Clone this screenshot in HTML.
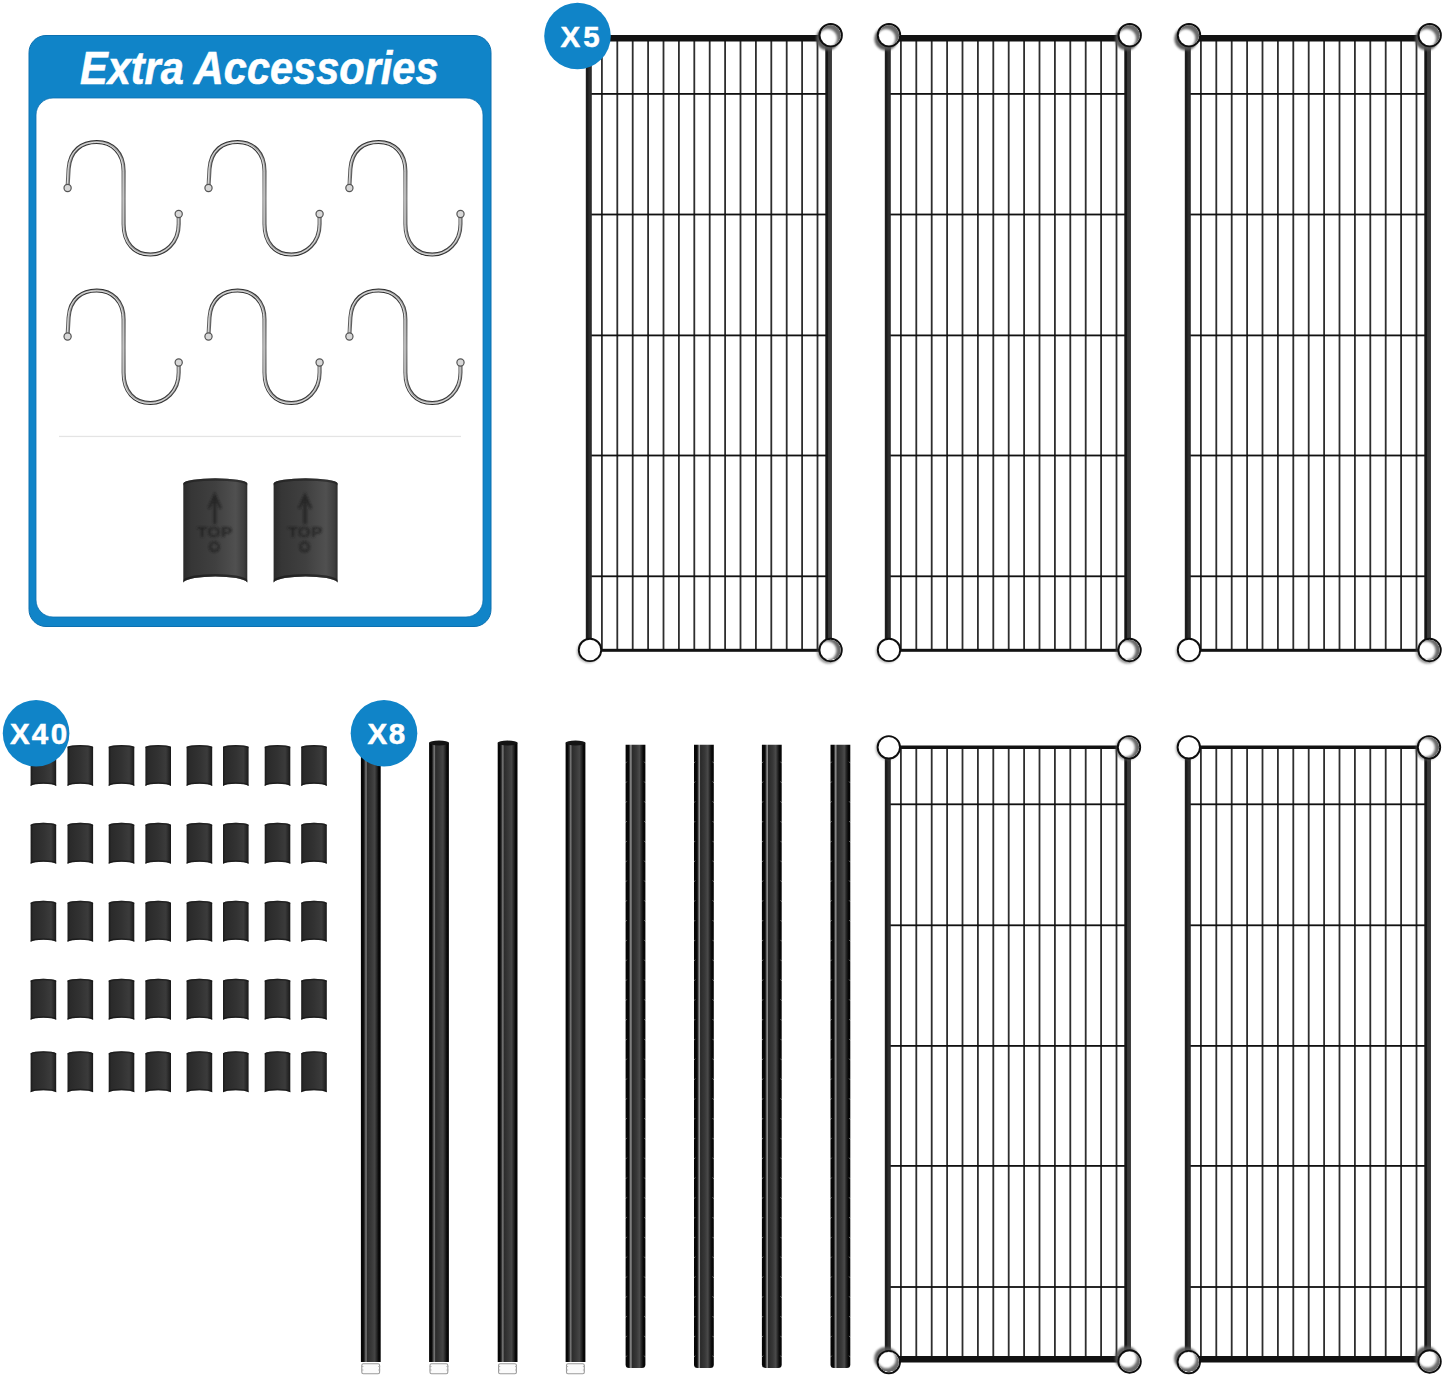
<!DOCTYPE html><html><head><meta charset="utf-8"><style>html,body{margin:0;padding:0;background:#fff;}svg{display:block;}text{font-family:"Liberation Sans",sans-serif;}</style></head><body><svg width="1445" height="1378" viewBox="0 0 1445 1378"><defs><filter id="b05" x="-50%" y="-50%" width="200%" height="200%"><feGaussianBlur stdDeviation="0.5"/></filter><filter id="b08" x="-50%" y="-50%" width="200%" height="200%"><feGaussianBlur stdDeviation="1.1"/></filter><filter id="b1" x="-50%" y="-50%" width="200%" height="200%"><feGaussianBlur stdDeviation="1"/></filter><filter id="b15" x="-50%" y="-50%" width="200%" height="200%"><feGaussianBlur stdDeviation="1.5"/></filter><linearGradient id="clipg" x1="0" x2="1" y1="0" y2="0"><stop offset="0" stop-color="#2a2a2a"/><stop offset="0.12" stop-color="#363636"/><stop offset="0.5" stop-color="#404040"/><stop offset="0.82" stop-color="#505050"/><stop offset="0.95" stop-color="#3e3e3e"/><stop offset="1" stop-color="#2c2c2c"/></linearGradient><linearGradient id="sclipg" x1="0" x2="1" y1="0" y2="0"><stop offset="0" stop-color="#1a1a1a"/><stop offset="0.1" stop-color="#2a2a2a"/><stop offset="0.5" stop-color="#323232"/><stop offset="0.8" stop-color="#3b3b3b"/><stop offset="0.93" stop-color="#252525"/><stop offset="1" stop-color="#181818"/></linearGradient><linearGradient id="poleg" x1="0" x2="1" y1="0" y2="0"><stop offset="0" stop-color="#050505"/><stop offset="0.12" stop-color="#080808"/><stop offset="0.2" stop-color="#3a3a3a"/><stop offset="0.26" stop-color="#808080"/><stop offset="0.33" stop-color="#2c2c2c"/><stop offset="0.55" stop-color="#3a3a3a"/><stop offset="0.7" stop-color="#454545"/><stop offset="0.82" stop-color="#222"/><stop offset="0.9" stop-color="#080808"/><stop offset="1" stop-color="#050505"/></linearGradient><linearGradient id="poleg2" x1="0" x2="1" y1="0" y2="0"><stop offset="0" stop-color="#050505"/><stop offset="0.16" stop-color="#080808"/><stop offset="0.22" stop-color="#555"/><stop offset="0.27" stop-color="#a0a0a0"/><stop offset="0.33" stop-color="#2a2a2a"/><stop offset="0.55" stop-color="#383838"/><stop offset="0.7" stop-color="#4a4a4a"/><stop offset="0.82" stop-color="#1e1e1e"/><stop offset="0.9" stop-color="#080808"/><stop offset="1" stop-color="#050505"/></linearGradient><linearGradient id="studg" x1="0" x2="1" y1="0" y2="0"><stop offset="0" stop-color="#999"/><stop offset="0.3" stop-color="#f4f4f4"/><stop offset="0.7" stop-color="#e6e6e6"/><stop offset="1" stop-color="#888"/></linearGradient><linearGradient id="hookg" gradientUnits="userSpaceOnUse" x1="0" y1="140" x2="0" y2="257"><stop offset="0" stop-color="#2a2a2a"/><stop offset="0.2" stop-color="#505050"/><stop offset="0.5" stop-color="#7a7a7a"/><stop offset="0.8" stop-color="#505050"/><stop offset="1" stop-color="#2e2e2e"/></linearGradient><linearGradient id="postL" x1="0" x2="1" y1="0" y2="0"><stop offset="0" stop-color="#1e1e1e"/><stop offset="0.3" stop-color="#1c1c1c"/><stop offset="0.6" stop-color="#2e2e2e"/><stop offset="1" stop-color="#2a2a2a"/></linearGradient><linearGradient id="postR" x1="0" x2="1" y1="0" y2="0"><stop offset="0" stop-color="#141414"/><stop offset="0.35" stop-color="#161616"/><stop offset="0.5" stop-color="#3a3a3a"/><stop offset="0.8" stop-color="#3a3a3a"/><stop offset="1" stop-color="#262626"/></linearGradient><clipPath id="rc"><circle r="10.2"/></clipPath><g id="hook"><path d="M67.6,187 L68.6,169 C70,150 82,142 96.8,142 C112.5,142 123.6,153 123.6,171 L123.6,224 C123.6,243 134,254.5 150.5,254.5 C165,254.5 178.7,243 178.7,224 L178.7,215" fill="none" stroke="url(#hookg)" stroke-width="4.1" stroke-linecap="round"/><path d="M67.6,187 L68.6,169 C70,150 82,142 96.8,142 C112.5,142 123.6,153 123.6,171 L123.6,224 C123.6,243 134,254.5 150.5,254.5 C165,254.5 178.7,243 178.7,224 L178.7,215" fill="none" stroke="#a0a0a0" stroke-width="1.9" stroke-linecap="round"/><path d="M67.6,187 L68.6,169 C70,150 82,142 96.8,142 C112.5,142 123.6,153 123.6,171 L123.6,224 C123.6,243 134,254.5 150.5,254.5 C165,254.5 178.7,243 178.7,224 L178.7,215" fill="none" stroke="#ededed" stroke-width="0.8" stroke-linecap="round" transform="translate(-0.5,0.3)"/><circle cx="67.6" cy="188" r="3.6" fill="#d8d8d8" stroke="#555" stroke-width="1.2"/><circle cx="178.7" cy="214" r="3.6" fill="#d8d8d8" stroke="#555" stroke-width="1.2"/></g><g id="sclip"><path d="M0,2.2 A14,3.2 0 0 1 25.6,2.2 L25.6,41.3 A13.5,3 0 0 0 0,41.3 Z" fill="url(#sclipg)"/><path d="M0,2.2 A14,3.2 0 0 1 25.6,2.2 L25.6,3.6 A14,3 0 0 0 0,3.6 Z" fill="#151515" opacity="0.6"/><path d="M0,39.8 A13.5,3 0 0 1 25.6,39.8 L25.6,41.3 A13.5,3 0 0 0 0,41.3 Z" fill="#111" opacity="0.6"/></g><g id="rT"><circle cx="-3" cy="3.6" r="11.6" fill="#555" opacity="0.95" filter="url(#b1)"/><circle r="11.2" fill="#fff"/><g clip-path="url(#rc)"><circle r="10.2" fill="#6a6a6a"/><circle cx="-3.0" cy="3.2" r="9.3" fill="#fff" filter="url(#b1)"/></g><circle r="11.2" fill="none" stroke="#0e0e0e" stroke-width="1.9"/></g><g id="rBL"><circle cx="-1.5" cy="1.5" r="11.6" fill="#555" opacity="0.45" filter="url(#b1)"/><circle r="11.2" fill="#fff"/><circle r="11.2" fill="none" stroke="#0e0e0e" stroke-width="1.9"/></g><g id="rBR"><circle cx="-2" cy="2" r="11.6" fill="#555" opacity="0.6" filter="url(#b1)"/><circle r="11.2" fill="#fff"/><g clip-path="url(#rc)"><circle r="10.2" fill="#6a6a6a"/><circle cx="-3.4" cy="0.6" r="9.3" fill="#fff" filter="url(#b1)"/></g><circle r="11.2" fill="none" stroke="#0e0e0e" stroke-width="1.9"/></g><g id="r2L"><circle cx="-1.5" cy="1.0" r="11.6" fill="#555" opacity="0.45" filter="url(#b1)"/><circle r="11.2" fill="#fff"/><circle r="11.2" fill="none" stroke="#0e0e0e" stroke-width="1.9"/></g><g id="r2R"><circle cx="-2" cy="1.5" r="11.6" fill="#555" opacity="0.6" filter="url(#b1)"/><circle r="11.2" fill="#fff"/><g clip-path="url(#rc)"><circle r="10.2" fill="#6a6a6a"/><circle cx="-3.4" cy="0.4" r="9.3" fill="#fff" filter="url(#b1)"/></g><circle r="11.2" fill="none" stroke="#0e0e0e" stroke-width="1.9"/></g><g id="r2B"><circle cx="-3" cy="-3.6" r="11.6" fill="#555" opacity="0.9" filter="url(#b1)"/><circle r="11.2" fill="#fff"/><g clip-path="url(#rc)"><circle r="10.2" fill="#6a6a6a"/><circle cx="-2.2" cy="-3.2" r="9.3" fill="#fff" filter="url(#b1)"/></g><circle r="11.2" fill="none" stroke="#0e0e0e" stroke-width="1.9"/></g></defs><rect width="1445" height="1378" fill="#fff"/><rect x="29" y="35.5" width="462" height="591" rx="17" fill="#1084c8" stroke="#0c70b0" stroke-width="1"/><rect x="36" y="98" width="447" height="519" rx="17" fill="#fff" stroke="#0c70b0" stroke-width="0.8"/><text x="80" y="83.6" font-size="45.8" font-weight="bold" font-style="italic" fill="#fff" stroke="#fff" stroke-width="0.6" textLength="358.5" lengthAdjust="spacingAndGlyphs">Extra Accessories</text><use href="#hook" transform="translate(0.0,0.0)"/><use href="#hook" transform="translate(140.9,0.0)"/><use href="#hook" transform="translate(281.8,0.0)"/><use href="#hook" transform="translate(0.0,148.5)"/><use href="#hook" transform="translate(140.9,148.5)"/><use href="#hook" transform="translate(281.8,148.5)"/><rect x="59" y="435.8" width="402" height="1.3" fill="#e4e4e4"/><g transform="translate(183.3,478)"><path d="M0,5.2 A32.05,5.2 0 0 1 64,5.2 L64,104.5 A32.5,7.4 0 0 0 0,104.5 Z" fill="url(#clipg)"/><path d="M0,5.2 A32.05,5.2 0 0 1 64,5.2 L64,7.4 A32.05,5 0 0 0 0,7.4 Z" fill="#1c1c1c" opacity="0.55"/><path d="M0,102 A32.5,7.4 0 0 1 64,102 L64,104.5 A32.5,7.4 0 0 0 0,104.5 Z" fill="#151515" opacity="0.6"/><g filter="url(#b08)" opacity="0.75" stroke="#1e1e1e" fill="none" stroke-width="2"><path d="M31.4,46 L31.4,19" stroke-width="2.8"/><path d="M25.5,30.5 L31.4,17 L37.3,30.5" stroke-width="2.4"/><circle cx="31" cy="68.8" r="4.4" stroke-width="2.2"/><text x="13.8" y="59.3" font-size="14" font-weight="bold" fill="#1e1e1e" stroke="none" textLength="35" lengthAdjust="spacingAndGlyphs">TOP</text></g></g><g transform="translate(273.6,478)"><path d="M0,5.2 A32.05,5.2 0 0 1 64,5.2 L64,104.5 A32.5,7.4 0 0 0 0,104.5 Z" fill="url(#clipg)"/><path d="M0,5.2 A32.05,5.2 0 0 1 64,5.2 L64,7.4 A32.05,5 0 0 0 0,7.4 Z" fill="#1c1c1c" opacity="0.55"/><path d="M0,102 A32.5,7.4 0 0 1 64,102 L64,104.5 A32.5,7.4 0 0 0 0,104.5 Z" fill="#151515" opacity="0.6"/><g filter="url(#b08)" opacity="0.75" stroke="#1e1e1e" fill="none" stroke-width="2"><path d="M31.4,46 L31.4,19" stroke-width="2.8"/><path d="M25.5,30.5 L31.4,17 L37.3,30.5" stroke-width="2.4"/><circle cx="31" cy="68.8" r="4.4" stroke-width="2.2"/><text x="13.8" y="59.3" font-size="14" font-weight="bold" fill="#1e1e1e" stroke="none" textLength="35" lengthAdjust="spacingAndGlyphs">TOP</text></g></g><rect x="601.00" y="38.2" width="1.8" height="612.1" fill="#2e2e2e"/><rect x="616.40" y="38.2" width="1.8" height="612.1" fill="#2e2e2e"/><rect x="631.80" y="38.2" width="1.8" height="612.1" fill="#2e2e2e"/><rect x="647.20" y="38.2" width="1.8" height="612.1" fill="#2e2e2e"/><rect x="662.60" y="38.2" width="1.8" height="612.1" fill="#2e2e2e"/><rect x="678.00" y="38.2" width="1.8" height="612.1" fill="#2e2e2e"/><rect x="693.40" y="38.2" width="1.8" height="612.1" fill="#2e2e2e"/><rect x="708.80" y="38.2" width="1.8" height="612.1" fill="#2e2e2e"/><rect x="724.20" y="38.2" width="1.8" height="612.1" fill="#2e2e2e"/><rect x="739.60" y="38.2" width="1.8" height="612.1" fill="#2e2e2e"/><rect x="755.00" y="38.2" width="1.8" height="612.1" fill="#2e2e2e"/><rect x="770.40" y="38.2" width="1.8" height="612.1" fill="#2e2e2e"/><rect x="785.80" y="38.2" width="1.8" height="612.1" fill="#2e2e2e"/><rect x="801.20" y="38.2" width="1.8" height="612.1" fill="#2e2e2e"/><rect x="816.60" y="38.2" width="1.8" height="612.1" fill="#2e2e2e"/><rect x="588.8" y="93.0" width="239.8" height="1.8" fill="#111"/><rect x="588.8" y="213.6" width="239.8" height="1.8" fill="#111"/><rect x="588.8" y="334.5" width="239.8" height="1.8" fill="#111"/><rect x="588.8" y="454.6" width="239.8" height="1.8" fill="#111"/><rect x="588.8" y="575.4" width="239.8" height="1.8" fill="#111"/><rect x="588.8" y="35.0" width="239.8" height="6.5" fill="#121212"/><rect x="588.8" y="648.8" width="239.8" height="3" fill="#121212"/><rect x="585.8" y="38.2" width="6" height="612.1" fill="url(#postL)"/><rect x="825.3" y="38.2" width="6.6" height="612.1" fill="url(#postR)"/><use href="#rT" transform="translate(590.0,35.2)"/><use href="#rT" transform="translate(830.7,35.2)"/><use href="#rBL" transform="translate(590.0,649.9)"/><use href="#rBR" transform="translate(830.6,650.0)"/><rect x="900.00" y="38.2" width="1.8" height="612.1" fill="#2e2e2e"/><rect x="915.40" y="38.2" width="1.8" height="612.1" fill="#2e2e2e"/><rect x="930.80" y="38.2" width="1.8" height="612.1" fill="#2e2e2e"/><rect x="946.20" y="38.2" width="1.8" height="612.1" fill="#2e2e2e"/><rect x="961.60" y="38.2" width="1.8" height="612.1" fill="#2e2e2e"/><rect x="977.00" y="38.2" width="1.8" height="612.1" fill="#2e2e2e"/><rect x="992.40" y="38.2" width="1.8" height="612.1" fill="#2e2e2e"/><rect x="1007.80" y="38.2" width="1.8" height="612.1" fill="#2e2e2e"/><rect x="1023.20" y="38.2" width="1.8" height="612.1" fill="#2e2e2e"/><rect x="1038.60" y="38.2" width="1.8" height="612.1" fill="#2e2e2e"/><rect x="1054.00" y="38.2" width="1.8" height="612.1" fill="#2e2e2e"/><rect x="1069.40" y="38.2" width="1.8" height="612.1" fill="#2e2e2e"/><rect x="1084.80" y="38.2" width="1.8" height="612.1" fill="#2e2e2e"/><rect x="1100.20" y="38.2" width="1.8" height="612.1" fill="#2e2e2e"/><rect x="1115.60" y="38.2" width="1.8" height="612.1" fill="#2e2e2e"/><rect x="887.8" y="93.0" width="239.8" height="1.8" fill="#111"/><rect x="887.8" y="213.6" width="239.8" height="1.8" fill="#111"/><rect x="887.8" y="334.5" width="239.8" height="1.8" fill="#111"/><rect x="887.8" y="454.6" width="239.8" height="1.8" fill="#111"/><rect x="887.8" y="575.4" width="239.8" height="1.8" fill="#111"/><rect x="887.8" y="35.0" width="239.8" height="6.5" fill="#121212"/><rect x="887.8" y="648.8" width="239.8" height="3" fill="#121212"/><rect x="884.8" y="38.2" width="6" height="612.1" fill="url(#postL)"/><rect x="1124.3" y="38.2" width="6.6" height="612.1" fill="url(#postR)"/><use href="#rT" transform="translate(889.0,35.2)"/><use href="#rT" transform="translate(1129.7,35.2)"/><use href="#rBL" transform="translate(889.0,649.9)"/><use href="#rBR" transform="translate(1129.6,650.0)"/><rect x="1200.00" y="38.2" width="1.8" height="612.1" fill="#2e2e2e"/><rect x="1215.40" y="38.2" width="1.8" height="612.1" fill="#2e2e2e"/><rect x="1230.80" y="38.2" width="1.8" height="612.1" fill="#2e2e2e"/><rect x="1246.20" y="38.2" width="1.8" height="612.1" fill="#2e2e2e"/><rect x="1261.60" y="38.2" width="1.8" height="612.1" fill="#2e2e2e"/><rect x="1277.00" y="38.2" width="1.8" height="612.1" fill="#2e2e2e"/><rect x="1292.40" y="38.2" width="1.8" height="612.1" fill="#2e2e2e"/><rect x="1307.80" y="38.2" width="1.8" height="612.1" fill="#2e2e2e"/><rect x="1323.20" y="38.2" width="1.8" height="612.1" fill="#2e2e2e"/><rect x="1338.60" y="38.2" width="1.8" height="612.1" fill="#2e2e2e"/><rect x="1354.00" y="38.2" width="1.8" height="612.1" fill="#2e2e2e"/><rect x="1369.40" y="38.2" width="1.8" height="612.1" fill="#2e2e2e"/><rect x="1384.80" y="38.2" width="1.8" height="612.1" fill="#2e2e2e"/><rect x="1400.20" y="38.2" width="1.8" height="612.1" fill="#2e2e2e"/><rect x="1415.60" y="38.2" width="1.8" height="612.1" fill="#2e2e2e"/><rect x="1187.8" y="93.0" width="239.8" height="1.8" fill="#111"/><rect x="1187.8" y="213.6" width="239.8" height="1.8" fill="#111"/><rect x="1187.8" y="334.5" width="239.8" height="1.8" fill="#111"/><rect x="1187.8" y="454.6" width="239.8" height="1.8" fill="#111"/><rect x="1187.8" y="575.4" width="239.8" height="1.8" fill="#111"/><rect x="1187.8" y="35.0" width="239.8" height="6.5" fill="#121212"/><rect x="1187.8" y="648.8" width="239.8" height="3" fill="#121212"/><rect x="1184.8" y="38.2" width="6" height="612.1" fill="url(#postL)"/><rect x="1424.3" y="38.2" width="6.6" height="612.1" fill="url(#postR)"/><use href="#rT" transform="translate(1189.0,35.2)"/><use href="#rT" transform="translate(1429.7,35.2)"/><use href="#rBL" transform="translate(1189.0,649.9)"/><use href="#rBR" transform="translate(1429.6,650.0)"/><rect x="900.00" y="747.3" width="1.8" height="612.0" fill="#2e2e2e"/><rect x="915.40" y="747.3" width="1.8" height="612.0" fill="#2e2e2e"/><rect x="930.80" y="747.3" width="1.8" height="612.0" fill="#2e2e2e"/><rect x="946.20" y="747.3" width="1.8" height="612.0" fill="#2e2e2e"/><rect x="961.60" y="747.3" width="1.8" height="612.0" fill="#2e2e2e"/><rect x="977.00" y="747.3" width="1.8" height="612.0" fill="#2e2e2e"/><rect x="992.40" y="747.3" width="1.8" height="612.0" fill="#2e2e2e"/><rect x="1007.80" y="747.3" width="1.8" height="612.0" fill="#2e2e2e"/><rect x="1023.20" y="747.3" width="1.8" height="612.0" fill="#2e2e2e"/><rect x="1038.60" y="747.3" width="1.8" height="612.0" fill="#2e2e2e"/><rect x="1054.00" y="747.3" width="1.8" height="612.0" fill="#2e2e2e"/><rect x="1069.40" y="747.3" width="1.8" height="612.0" fill="#2e2e2e"/><rect x="1084.80" y="747.3" width="1.8" height="612.0" fill="#2e2e2e"/><rect x="1100.20" y="747.3" width="1.8" height="612.0" fill="#2e2e2e"/><rect x="1115.60" y="747.3" width="1.8" height="612.0" fill="#2e2e2e"/><rect x="887.8" y="803.4" width="239.8" height="1.8" fill="#111"/><rect x="887.8" y="924.4" width="239.8" height="1.8" fill="#111"/><rect x="887.8" y="1045.0" width="239.8" height="1.8" fill="#111"/><rect x="887.8" y="1165.0" width="239.8" height="1.8" fill="#111"/><rect x="887.8" y="1286.1" width="239.8" height="1.8" fill="#111"/><rect x="887.8" y="745.5" width="239.8" height="3.5" fill="#121212"/><rect x="887.8" y="1356.0" width="239.8" height="6.5" fill="#121212"/><rect x="884.8" y="747.3" width="6" height="612.0" fill="url(#postL)"/><rect x="1124.3" y="747.3" width="6.6" height="612.0" fill="url(#postR)"/><use href="#r2L" transform="translate(888.8,747.3)"/><use href="#r2R" transform="translate(1129.0,747.3)"/><use href="#r2B" transform="translate(888.8,1362.1)"/><use href="#r2B" transform="translate(1129.6,1361.5)"/><rect x="1200.00" y="747.3" width="1.8" height="612.0" fill="#2e2e2e"/><rect x="1215.40" y="747.3" width="1.8" height="612.0" fill="#2e2e2e"/><rect x="1230.80" y="747.3" width="1.8" height="612.0" fill="#2e2e2e"/><rect x="1246.20" y="747.3" width="1.8" height="612.0" fill="#2e2e2e"/><rect x="1261.60" y="747.3" width="1.8" height="612.0" fill="#2e2e2e"/><rect x="1277.00" y="747.3" width="1.8" height="612.0" fill="#2e2e2e"/><rect x="1292.40" y="747.3" width="1.8" height="612.0" fill="#2e2e2e"/><rect x="1307.80" y="747.3" width="1.8" height="612.0" fill="#2e2e2e"/><rect x="1323.20" y="747.3" width="1.8" height="612.0" fill="#2e2e2e"/><rect x="1338.60" y="747.3" width="1.8" height="612.0" fill="#2e2e2e"/><rect x="1354.00" y="747.3" width="1.8" height="612.0" fill="#2e2e2e"/><rect x="1369.40" y="747.3" width="1.8" height="612.0" fill="#2e2e2e"/><rect x="1384.80" y="747.3" width="1.8" height="612.0" fill="#2e2e2e"/><rect x="1400.20" y="747.3" width="1.8" height="612.0" fill="#2e2e2e"/><rect x="1415.60" y="747.3" width="1.8" height="612.0" fill="#2e2e2e"/><rect x="1187.8" y="803.4" width="239.8" height="1.8" fill="#111"/><rect x="1187.8" y="924.4" width="239.8" height="1.8" fill="#111"/><rect x="1187.8" y="1045.0" width="239.8" height="1.8" fill="#111"/><rect x="1187.8" y="1165.0" width="239.8" height="1.8" fill="#111"/><rect x="1187.8" y="1286.1" width="239.8" height="1.8" fill="#111"/><rect x="1187.8" y="745.5" width="239.8" height="3.5" fill="#121212"/><rect x="1187.8" y="1356.0" width="239.8" height="6.5" fill="#121212"/><rect x="1184.8" y="747.3" width="6" height="612.0" fill="url(#postL)"/><rect x="1424.3" y="747.3" width="6.6" height="612.0" fill="url(#postR)"/><use href="#r2L" transform="translate(1188.8,747.3)"/><use href="#r2R" transform="translate(1429.0,747.3)"/><use href="#r2B" transform="translate(1188.8,1362.1)"/><use href="#r2B" transform="translate(1429.6,1361.5)"/><use href="#sclip" transform="translate(30.6,744.6)"/><use href="#sclip" transform="translate(67.5,744.6)"/><use href="#sclip" transform="translate(108.7,744.6)"/><use href="#sclip" transform="translate(145.4,744.6)"/><use href="#sclip" transform="translate(186.6,744.6)"/><use href="#sclip" transform="translate(223,744.6)"/><use href="#sclip" transform="translate(264.7,744.6)"/><use href="#sclip" transform="translate(301.2,744.6)"/><use href="#sclip" transform="translate(30.6,822.5)"/><use href="#sclip" transform="translate(67.5,822.5)"/><use href="#sclip" transform="translate(108.7,822.5)"/><use href="#sclip" transform="translate(145.4,822.5)"/><use href="#sclip" transform="translate(186.6,822.5)"/><use href="#sclip" transform="translate(223,822.5)"/><use href="#sclip" transform="translate(264.7,822.5)"/><use href="#sclip" transform="translate(301.2,822.5)"/><use href="#sclip" transform="translate(30.6,900.5)"/><use href="#sclip" transform="translate(67.5,900.5)"/><use href="#sclip" transform="translate(108.7,900.5)"/><use href="#sclip" transform="translate(145.4,900.5)"/><use href="#sclip" transform="translate(186.6,900.5)"/><use href="#sclip" transform="translate(223,900.5)"/><use href="#sclip" transform="translate(264.7,900.5)"/><use href="#sclip" transform="translate(301.2,900.5)"/><use href="#sclip" transform="translate(30.6,978.4)"/><use href="#sclip" transform="translate(67.5,978.4)"/><use href="#sclip" transform="translate(108.7,978.4)"/><use href="#sclip" transform="translate(145.4,978.4)"/><use href="#sclip" transform="translate(186.6,978.4)"/><use href="#sclip" transform="translate(223,978.4)"/><use href="#sclip" transform="translate(264.7,978.4)"/><use href="#sclip" transform="translate(301.2,978.4)"/><use href="#sclip" transform="translate(30.6,1051)"/><use href="#sclip" transform="translate(67.5,1051)"/><use href="#sclip" transform="translate(108.7,1051)"/><use href="#sclip" transform="translate(145.4,1051)"/><use href="#sclip" transform="translate(186.6,1051)"/><use href="#sclip" transform="translate(223,1051)"/><use href="#sclip" transform="translate(264.7,1051)"/><use href="#sclip" transform="translate(301.2,1051)"/><rect x="360.9" y="742.6" width="19.8" height="619.4" fill="url(#poleg)"/><ellipse cx="370.8" cy="743.1" rx="9.9" ry="2.5" fill="#141414"/><rect x="361.8" y="1363.8" width="17.8" height="10" rx="1.5" fill="#fbfbfb" stroke="#9a9a9a" stroke-width="1.1"/><path d="M361.4,1366.5 h2 M361.4,1370.0 h2 M378.2,1366.5 h2 M378.2,1370.0 h2" stroke="#aaa" stroke-width="0.8"/><rect x="429.1" y="742.6" width="19.8" height="619.4" fill="url(#poleg)"/><ellipse cx="439.0" cy="743.1" rx="9.9" ry="2.5" fill="#141414"/><rect x="430.0" y="1363.8" width="17.8" height="10" rx="1.5" fill="#fbfbfb" stroke="#9a9a9a" stroke-width="1.1"/><path d="M429.6,1366.5 h2 M429.6,1370.0 h2 M446.4,1366.5 h2 M446.4,1370.0 h2" stroke="#aaa" stroke-width="0.8"/><rect x="497.7" y="742.6" width="19.8" height="619.4" fill="url(#poleg)"/><ellipse cx="507.6" cy="743.1" rx="9.9" ry="2.5" fill="#141414"/><rect x="498.6" y="1363.8" width="17.8" height="10" rx="1.5" fill="#fbfbfb" stroke="#9a9a9a" stroke-width="1.1"/><path d="M498.2,1366.5 h2 M498.2,1370.0 h2 M515.0,1366.5 h2 M515.0,1370.0 h2" stroke="#aaa" stroke-width="0.8"/><rect x="565.6" y="742.6" width="19.8" height="619.4" fill="url(#poleg)"/><ellipse cx="575.5" cy="743.1" rx="9.9" ry="2.5" fill="#141414"/><rect x="566.5" y="1363.8" width="17.8" height="10" rx="1.5" fill="#fbfbfb" stroke="#9a9a9a" stroke-width="1.1"/><path d="M566.1,1366.5 h2 M566.1,1370.0 h2 M582.9,1366.5 h2 M582.9,1370.0 h2" stroke="#aaa" stroke-width="0.8"/><path d="M625.6,744.8 h19.8 V1364.5 q0,3.5 -3.5,3.5 h-12.8 q-3.5,0 -3.5,-3.5 Z" fill="url(#poleg2)"/><path d="M625.4,763.3 l1.4,-1.6 M645.6,763.3 l-1.4,-1.6 M625.4,783.1 l1.4,-1.6 M645.6,783.1 l-1.4,-1.6 M625.4,802.9 l1.4,-1.6 M645.6,802.9 l-1.4,-1.6 M625.4,822.7 l1.4,-1.6 M645.6,822.7 l-1.4,-1.6 M625.4,842.5 l1.4,-1.6 M645.6,842.5 l-1.4,-1.6 M625.4,862.3 l1.4,-1.6 M645.6,862.3 l-1.4,-1.6 M625.4,882.1 l1.4,-1.6 M645.6,882.1 l-1.4,-1.6 M625.4,901.9 l1.4,-1.6 M645.6,901.9 l-1.4,-1.6 M625.4,921.7 l1.4,-1.6 M645.6,921.7 l-1.4,-1.6 M625.4,941.5 l1.4,-1.6 M645.6,941.5 l-1.4,-1.6 M625.4,961.3 l1.4,-1.6 M645.6,961.3 l-1.4,-1.6 M625.4,981.1 l1.4,-1.6 M645.6,981.1 l-1.4,-1.6 M625.4,1000.9 l1.4,-1.6 M645.6,1000.9 l-1.4,-1.6 M625.4,1020.7 l1.4,-1.6 M645.6,1020.7 l-1.4,-1.6 M625.4,1040.5 l1.4,-1.6 M645.6,1040.5 l-1.4,-1.6 M625.4,1060.3 l1.4,-1.6 M645.6,1060.3 l-1.4,-1.6 M625.4,1080.1 l1.4,-1.6 M645.6,1080.1 l-1.4,-1.6 M625.4,1099.9 l1.4,-1.6 M645.6,1099.9 l-1.4,-1.6 M625.4,1119.7 l1.4,-1.6 M645.6,1119.7 l-1.4,-1.6 M625.4,1139.5 l1.4,-1.6 M645.6,1139.5 l-1.4,-1.6 M625.4,1159.3 l1.4,-1.6 M645.6,1159.3 l-1.4,-1.6 M625.4,1179.1 l1.4,-1.6 M645.6,1179.1 l-1.4,-1.6 M625.4,1198.9 l1.4,-1.6 M645.6,1198.9 l-1.4,-1.6 M625.4,1218.7 l1.4,-1.6 M645.6,1218.7 l-1.4,-1.6 M625.4,1238.5 l1.4,-1.6 M645.6,1238.5 l-1.4,-1.6 M625.4,1258.3 l1.4,-1.6 M645.6,1258.3 l-1.4,-1.6 M625.4,1278.1 l1.4,-1.6 M645.6,1278.1 l-1.4,-1.6 M625.4,1297.9 l1.4,-1.6 M645.6,1297.9 l-1.4,-1.6 M625.4,1317.7 l1.4,-1.6 M645.6,1317.7 l-1.4,-1.6 M625.4,1337.5 l1.4,-1.6 M645.6,1337.5 l-1.4,-1.6 M625.4,1357.3 l1.4,-1.6 M645.6,1357.3 l-1.4,-1.6" stroke="#fff" stroke-width="0.8" opacity="0.5"/><path d="M694.0,744.8 h19.8 V1364.5 q0,3.5 -3.5,3.5 h-12.8 q-3.5,0 -3.5,-3.5 Z" fill="url(#poleg2)"/><path d="M693.8,763.3 l1.4,-1.6 M714.0,763.3 l-1.4,-1.6 M693.8,783.1 l1.4,-1.6 M714.0,783.1 l-1.4,-1.6 M693.8,802.9 l1.4,-1.6 M714.0,802.9 l-1.4,-1.6 M693.8,822.7 l1.4,-1.6 M714.0,822.7 l-1.4,-1.6 M693.8,842.5 l1.4,-1.6 M714.0,842.5 l-1.4,-1.6 M693.8,862.3 l1.4,-1.6 M714.0,862.3 l-1.4,-1.6 M693.8,882.1 l1.4,-1.6 M714.0,882.1 l-1.4,-1.6 M693.8,901.9 l1.4,-1.6 M714.0,901.9 l-1.4,-1.6 M693.8,921.7 l1.4,-1.6 M714.0,921.7 l-1.4,-1.6 M693.8,941.5 l1.4,-1.6 M714.0,941.5 l-1.4,-1.6 M693.8,961.3 l1.4,-1.6 M714.0,961.3 l-1.4,-1.6 M693.8,981.1 l1.4,-1.6 M714.0,981.1 l-1.4,-1.6 M693.8,1000.9 l1.4,-1.6 M714.0,1000.9 l-1.4,-1.6 M693.8,1020.7 l1.4,-1.6 M714.0,1020.7 l-1.4,-1.6 M693.8,1040.5 l1.4,-1.6 M714.0,1040.5 l-1.4,-1.6 M693.8,1060.3 l1.4,-1.6 M714.0,1060.3 l-1.4,-1.6 M693.8,1080.1 l1.4,-1.6 M714.0,1080.1 l-1.4,-1.6 M693.8,1099.9 l1.4,-1.6 M714.0,1099.9 l-1.4,-1.6 M693.8,1119.7 l1.4,-1.6 M714.0,1119.7 l-1.4,-1.6 M693.8,1139.5 l1.4,-1.6 M714.0,1139.5 l-1.4,-1.6 M693.8,1159.3 l1.4,-1.6 M714.0,1159.3 l-1.4,-1.6 M693.8,1179.1 l1.4,-1.6 M714.0,1179.1 l-1.4,-1.6 M693.8,1198.9 l1.4,-1.6 M714.0,1198.9 l-1.4,-1.6 M693.8,1218.7 l1.4,-1.6 M714.0,1218.7 l-1.4,-1.6 M693.8,1238.5 l1.4,-1.6 M714.0,1238.5 l-1.4,-1.6 M693.8,1258.3 l1.4,-1.6 M714.0,1258.3 l-1.4,-1.6 M693.8,1278.1 l1.4,-1.6 M714.0,1278.1 l-1.4,-1.6 M693.8,1297.9 l1.4,-1.6 M714.0,1297.9 l-1.4,-1.6 M693.8,1317.7 l1.4,-1.6 M714.0,1317.7 l-1.4,-1.6 M693.8,1337.5 l1.4,-1.6 M714.0,1337.5 l-1.4,-1.6 M693.8,1357.3 l1.4,-1.6 M714.0,1357.3 l-1.4,-1.6" stroke="#fff" stroke-width="0.8" opacity="0.5"/><path d="M761.9,744.8 h19.8 V1364.5 q0,3.5 -3.5,3.5 h-12.8 q-3.5,0 -3.5,-3.5 Z" fill="url(#poleg2)"/><path d="M761.7,763.3 l1.4,-1.6 M781.9,763.3 l-1.4,-1.6 M761.7,783.1 l1.4,-1.6 M781.9,783.1 l-1.4,-1.6 M761.7,802.9 l1.4,-1.6 M781.9,802.9 l-1.4,-1.6 M761.7,822.7 l1.4,-1.6 M781.9,822.7 l-1.4,-1.6 M761.7,842.5 l1.4,-1.6 M781.9,842.5 l-1.4,-1.6 M761.7,862.3 l1.4,-1.6 M781.9,862.3 l-1.4,-1.6 M761.7,882.1 l1.4,-1.6 M781.9,882.1 l-1.4,-1.6 M761.7,901.9 l1.4,-1.6 M781.9,901.9 l-1.4,-1.6 M761.7,921.7 l1.4,-1.6 M781.9,921.7 l-1.4,-1.6 M761.7,941.5 l1.4,-1.6 M781.9,941.5 l-1.4,-1.6 M761.7,961.3 l1.4,-1.6 M781.9,961.3 l-1.4,-1.6 M761.7,981.1 l1.4,-1.6 M781.9,981.1 l-1.4,-1.6 M761.7,1000.9 l1.4,-1.6 M781.9,1000.9 l-1.4,-1.6 M761.7,1020.7 l1.4,-1.6 M781.9,1020.7 l-1.4,-1.6 M761.7,1040.5 l1.4,-1.6 M781.9,1040.5 l-1.4,-1.6 M761.7,1060.3 l1.4,-1.6 M781.9,1060.3 l-1.4,-1.6 M761.7,1080.1 l1.4,-1.6 M781.9,1080.1 l-1.4,-1.6 M761.7,1099.9 l1.4,-1.6 M781.9,1099.9 l-1.4,-1.6 M761.7,1119.7 l1.4,-1.6 M781.9,1119.7 l-1.4,-1.6 M761.7,1139.5 l1.4,-1.6 M781.9,1139.5 l-1.4,-1.6 M761.7,1159.3 l1.4,-1.6 M781.9,1159.3 l-1.4,-1.6 M761.7,1179.1 l1.4,-1.6 M781.9,1179.1 l-1.4,-1.6 M761.7,1198.9 l1.4,-1.6 M781.9,1198.9 l-1.4,-1.6 M761.7,1218.7 l1.4,-1.6 M781.9,1218.7 l-1.4,-1.6 M761.7,1238.5 l1.4,-1.6 M781.9,1238.5 l-1.4,-1.6 M761.7,1258.3 l1.4,-1.6 M781.9,1258.3 l-1.4,-1.6 M761.7,1278.1 l1.4,-1.6 M781.9,1278.1 l-1.4,-1.6 M761.7,1297.9 l1.4,-1.6 M781.9,1297.9 l-1.4,-1.6 M761.7,1317.7 l1.4,-1.6 M781.9,1317.7 l-1.4,-1.6 M761.7,1337.5 l1.4,-1.6 M781.9,1337.5 l-1.4,-1.6 M761.7,1357.3 l1.4,-1.6 M781.9,1357.3 l-1.4,-1.6" stroke="#fff" stroke-width="0.8" opacity="0.5"/><path d="M830.5,744.8 h19.8 V1364.5 q0,3.5 -3.5,3.5 h-12.8 q-3.5,0 -3.5,-3.5 Z" fill="url(#poleg2)"/><path d="M830.3,763.3 l1.4,-1.6 M850.5,763.3 l-1.4,-1.6 M830.3,783.1 l1.4,-1.6 M850.5,783.1 l-1.4,-1.6 M830.3,802.9 l1.4,-1.6 M850.5,802.9 l-1.4,-1.6 M830.3,822.7 l1.4,-1.6 M850.5,822.7 l-1.4,-1.6 M830.3,842.5 l1.4,-1.6 M850.5,842.5 l-1.4,-1.6 M830.3,862.3 l1.4,-1.6 M850.5,862.3 l-1.4,-1.6 M830.3,882.1 l1.4,-1.6 M850.5,882.1 l-1.4,-1.6 M830.3,901.9 l1.4,-1.6 M850.5,901.9 l-1.4,-1.6 M830.3,921.7 l1.4,-1.6 M850.5,921.7 l-1.4,-1.6 M830.3,941.5 l1.4,-1.6 M850.5,941.5 l-1.4,-1.6 M830.3,961.3 l1.4,-1.6 M850.5,961.3 l-1.4,-1.6 M830.3,981.1 l1.4,-1.6 M850.5,981.1 l-1.4,-1.6 M830.3,1000.9 l1.4,-1.6 M850.5,1000.9 l-1.4,-1.6 M830.3,1020.7 l1.4,-1.6 M850.5,1020.7 l-1.4,-1.6 M830.3,1040.5 l1.4,-1.6 M850.5,1040.5 l-1.4,-1.6 M830.3,1060.3 l1.4,-1.6 M850.5,1060.3 l-1.4,-1.6 M830.3,1080.1 l1.4,-1.6 M850.5,1080.1 l-1.4,-1.6 M830.3,1099.9 l1.4,-1.6 M850.5,1099.9 l-1.4,-1.6 M830.3,1119.7 l1.4,-1.6 M850.5,1119.7 l-1.4,-1.6 M830.3,1139.5 l1.4,-1.6 M850.5,1139.5 l-1.4,-1.6 M830.3,1159.3 l1.4,-1.6 M850.5,1159.3 l-1.4,-1.6 M830.3,1179.1 l1.4,-1.6 M850.5,1179.1 l-1.4,-1.6 M830.3,1198.9 l1.4,-1.6 M850.5,1198.9 l-1.4,-1.6 M830.3,1218.7 l1.4,-1.6 M850.5,1218.7 l-1.4,-1.6 M830.3,1238.5 l1.4,-1.6 M850.5,1238.5 l-1.4,-1.6 M830.3,1258.3 l1.4,-1.6 M850.5,1258.3 l-1.4,-1.6 M830.3,1278.1 l1.4,-1.6 M850.5,1278.1 l-1.4,-1.6 M830.3,1297.9 l1.4,-1.6 M850.5,1297.9 l-1.4,-1.6 M830.3,1317.7 l1.4,-1.6 M850.5,1317.7 l-1.4,-1.6 M830.3,1337.5 l1.4,-1.6 M850.5,1337.5 l-1.4,-1.6 M830.3,1357.3 l1.4,-1.6 M850.5,1357.3 l-1.4,-1.6" stroke="#fff" stroke-width="0.8" opacity="0.5"/><circle cx="577.5" cy="36" r="33.3" fill="#1084c8"/><g font-size="29.5" font-weight="bold" fill="#fff" stroke="#fff" stroke-width="0.5"><text x="560.6" y="46.5">X</text><text x="583.3" y="46.5">5</text></g><circle cx="36.1" cy="733.3" r="33.3" fill="#1084c8"/><g font-size="29.5" font-weight="bold" fill="#fff" stroke="#fff" stroke-width="0.5"><text x="10.0" y="743.8">X</text><text x="31.8" y="743.8">4</text><text x="50.8" y="743.8">0</text></g><circle cx="384" cy="733.3" r="33.3" fill="#1084c8"/><g font-size="29.5" font-weight="bold" fill="#fff" stroke="#fff" stroke-width="0.5"><text x="367.5" y="743.8">X</text><text x="388.8" y="743.8">8</text></g></svg></body></html>
